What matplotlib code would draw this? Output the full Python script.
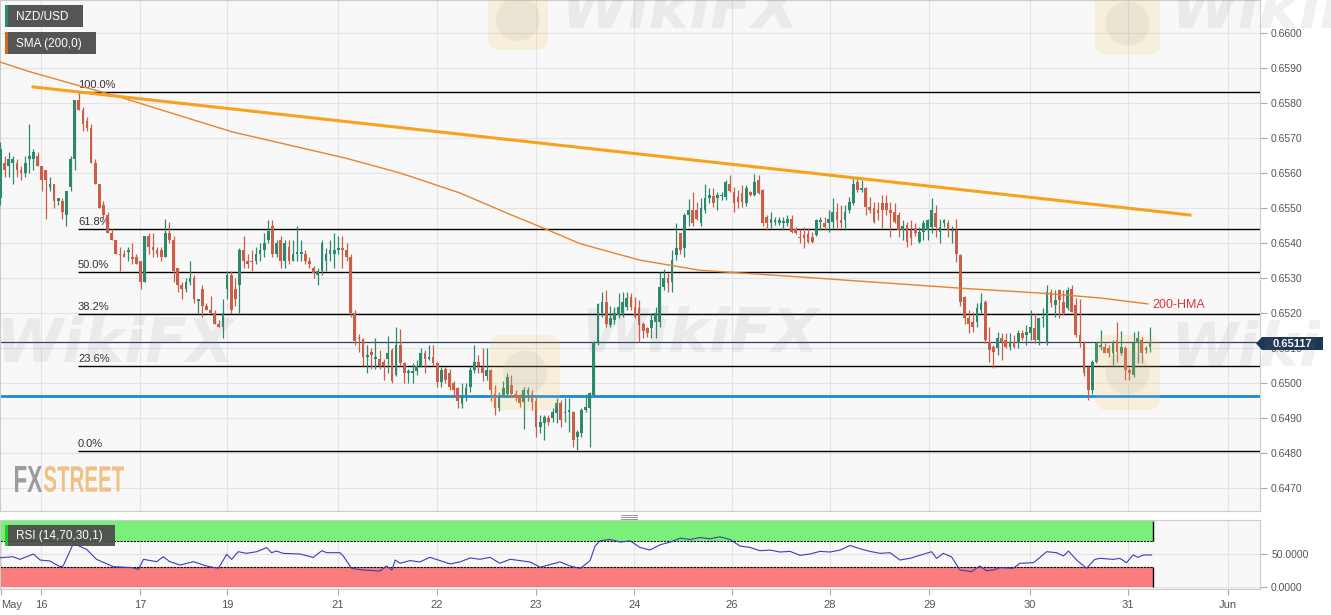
import numpy as np
import matplotlib
matplotlib.use("Agg")
import matplotlib.pyplot as plt
from matplotlib.patches import Rectangle, Polygon, PathPatch, FancyBboxPatch, Circle
from matplotlib.textpath import TextPath
from matplotlib.font_manager import FontProperties
from matplotlib.transforms import Affine2D

plt.rcParams['font.family'] = ['Liberation Sans', 'DejaVu Sans']

# NZD/USD hourly candles, prices in pips (6553 -> 0.6553)
opens = [
    6553, 6563, 6562, 6563, 6563, 6561, 6560, 6564, 6564, 6565,
    6562, 6561, 6556, 6557, 6552, 6552, 6548, 6556, 6564, 6581,
    6578, 6575, 6573, 6563, 6557, 6551, 6548, 6543, 6541, 6537,
    6537, 6537.5, 6536, 6536, 6535, 6529, 6542, 6539, 6538, 6538,
    6536, 6543, 6541, 6533, 6528, 6527, 6529, 6530, 6523.5, 6527,
    6522, 6521, 6520, 6517, 6516, 6527, 6531, 6527, 6528, 6538,
    6535, 6535, 6535, 6537, 6538, 6541, 6545, 6537, 6541, 6535,
    6539, 6535, 6537, 6537, 6537, 6535, 6533, 6531, 6532, 6535,
    6537, 6537, 6538, 6538.5, 6538, 6536, 6520, 6513, 6512.5, 6507.5,
    6509, 6507, 6507, 6506, 6507, 6509.5, 6502.3, 6511, 6505.6, 6503,
    6503, 6503.5, 6505, 6508.5, 6507, 6507.5, 6505.6, 6500.4, 6504, 6503,
    6500, 6498.5, 6494, 6496.5, 6499, 6503.7, 6506, 6504.7, 6502, 6503.7,
    6497, 6493, 6496.6, 6497, 6499.4, 6497, 6496.6, 6494.7, 6497, 6497,
    6495, 6487.5, 6488.5, 6490, 6489.9, 6491.3, 6494.2, 6491.4, 6491.8, 6491.8,
    6484.6, 6485.6, 6492.3, 6492.8, 6496.6, 6511.8, 6519.9, 6523.2, 6516.6, 6518,
    6519.4, 6519.9, 6521.8, 6524.7, 6521.8, 6521.3, 6517, 6515.6, 6515.6, 6517.5,
    6517.5, 6527.5, 6529.9, 6529, 6536.6, 6542.8, 6538.5, 6548, 6549.4, 6549.4,
    6545.6, 6549.4, 6552.8, 6553.4, 6552.8, 6553.4, 6553.2, 6556.8, 6554.6, 6553.2,
    6554.2, 6551.3, 6554.7, 6553.7, 6558, 6555.1, 6547.5, 6545.6, 6546.1, 6545.6,
    6545.8, 6545.6, 6547, 6544, 6541.8, 6542.3, 6542.5, 6541.8, 6542.3, 6546,
    6545.8, 6545.6, 6546.1, 6549, 6546.6, 6546.6, 6549.4, 6551.3, 6557.5, 6555.1,
    6555.6, 6550.4, 6550, 6549.4, 6551.3, 6551.3, 6549.4, 6549, 6548, 6543.7,
    6545.1, 6543.7, 6544.2, 6540.4, 6543.2, 6543.7, 6544.7, 6548.7, 6543.2, 6545.6,
    6545.6, 6543.3, 6543.7, 6536.6, 6524.7, 6518.5, 6517.5, 6517.5, 6520.9, 6523.2,
    6511.8, 6510.4, 6509.9, 6512.8, 6512.3, 6510.4, 6511.8, 6511.3, 6514.2, 6513.7,
    6514.2, 6515.6, 6512.3, 6518.5, 6511.3, 6526.1, 6522.3, 6526.6, 6523.2, 6521.3,
    6527, 6522.3, 6513.7, 6511.3, 6504.7, 6498, 6506, 6510.4, 6510.4, 6510,
    6508.5, 6512.3, 6508.5, 6509.9, 6503.7, 6502.3, 6511.3, 6512.3, 6509.4, 6510.4,
]
highs = [
    6569, 6565, 6566, 6565, 6564, 6562, 6565, 6574, 6567, 6566,
    6562, 6561, 6559, 6557, 6553, 6553, 6555, 6565, 6581, 6583,
    6579, 6576, 6574, 6564, 6557, 6552, 6549, 6544, 6541, 6539,
    6538, 6539, 6540, 6537, 6535, 6542, 6543, 6543, 6539, 6539,
    6547, 6546, 6542, 6533, 6529, 6530, 6535, 6531, 6524, 6528,
    6523, 6525, 6521, 6518, 6524, 6532, 6532, 6530, 6538.5, 6542,
    6537, 6538, 6539, 6540, 6543, 6546.5, 6546.5, 6541, 6542, 6541,
    6541, 6541, 6545, 6541, 6538, 6536, 6533.5, 6533, 6541, 6538.5,
    6541, 6543, 6542, 6542, 6540, 6537, 6521, 6514, 6513, 6511,
    6510, 6513, 6509.5, 6507, 6513.5, 6510, 6516, 6515.5, 6506, 6504,
    6505.6, 6506.5, 6510, 6509.5, 6510.8, 6510.8, 6506, 6504.5, 6504.5, 6504,
    6500.5, 6499, 6500, 6500, 6505, 6510.8, 6508, 6510, 6510, 6504,
    6499.5, 6497.5, 6500.5, 6502.8, 6502.3, 6498, 6497, 6499, 6499, 6498,
    6496, 6490.8, 6491, 6491, 6493, 6495.6, 6495.1, 6495.6, 6495.6, 6492,
    6486.5, 6493, 6497, 6497.5, 6512, 6523, 6526, 6526.6, 6522, 6521.8,
    6525.6, 6526, 6526, 6525.6, 6524.7, 6523.7, 6517.5, 6516, 6520, 6521.8,
    6531.8, 6532.7, 6531.3, 6538, 6545.6, 6543, 6548.5, 6552.7, 6554.7, 6551.8,
    6553, 6557, 6555.6, 6555.6, 6554.7, 6554.7, 6558, 6559.4, 6556, 6555.1,
    6556.6, 6556.6, 6555, 6559.7, 6559.4, 6555.5, 6548, 6549, 6547.5, 6547.5,
    6547.5, 6548, 6548, 6544.5, 6544, 6544.7, 6544.2, 6543.2, 6547, 6547.5,
    6547.5, 6549.4, 6552.8, 6551.3, 6550.8, 6550.8, 6553.2, 6558.5, 6558.5, 6558,
    6556, 6553.2, 6551.8, 6551.8, 6553.7, 6553.7, 6551.8, 6551.3, 6549, 6546.5,
    6546, 6546.6, 6545.6, 6544.7, 6546.6, 6547, 6552.8, 6550.8, 6547, 6547,
    6546.5, 6545, 6547, 6537, 6525, 6520.9, 6520.4, 6522.8, 6525.6, 6523.7,
    6516.1, 6511, 6514.7, 6514.2, 6514.2, 6514.2, 6513.7, 6515.1, 6515.1, 6516.6,
    6520.9, 6519.9, 6518.5, 6521.3, 6528, 6527, 6526.6, 6527, 6526.6, 6527.5,
    6528, 6524.2, 6524, 6512, 6505, 6506.5, 6511.8, 6515.1, 6511.3, 6510.9,
    6512.3, 6517.5, 6515, 6510.5, 6504.2, 6514.7, 6515, 6513.2, 6510.5, 6516.1,
]
lows = [
    6551, 6559, 6559, 6557, 6559, 6558, 6559, 6560, 6561, 6562,
    6555, 6547, 6555, 6550, 6551, 6547, 6545, 6555, 6561, 6578,
    6572, 6572, 6563, 6557, 6550, 6547, 6543, 6541, 6537, 6532,
    6536, 6535, 6534, 6534, 6527, 6529, 6537, 6536, 6536, 6535,
    6536, 6540, 6529, 6526, 6524, 6526, 6528, 6523, 6520, 6519,
    6521, 6520, 6517, 6516, 6513, 6524, 6520, 6522, 6520, 6533,
    6533, 6532, 6534, 6535, 6536, 6540, 6536, 6536, 6533, 6533,
    6534, 6535, 6535, 6535, 6534, 6533, 6530, 6528, 6531, 6532,
    6535, 6533, 6537, 6533, 6535, 6519, 6511, 6509, 6505, 6503,
    6504, 6504, 6504, 6501, 6503, 6500, 6502, 6505, 6500, 6500,
    6500, 6502.3, 6504.7, 6502.8, 6506.5, 6505, 6499, 6499, 6500, 6498,
    6496, 6493, 6493, 6495, 6497.5, 6503, 6503, 6500.5, 6501, 6495,
    6490.8, 6492, 6496, 6496, 6496, 6495, 6493.2, 6487, 6495, 6492.3,
    6484.6, 6485.6, 6483.7, 6488, 6489, 6488.5, 6487.5, 6489, 6486, 6481.8,
    6480.8, 6484.6, 6491.8, 6481.8, 6496, 6511, 6519, 6516, 6516, 6517,
    6518.5, 6519, 6521, 6521, 6518.5, 6511.8, 6512.8, 6513.2, 6512.8, 6513,
    6516.1, 6526.6, 6526, 6526, 6535.1, 6537, 6536, 6545, 6545, 6546.5,
    6545, 6548.5, 6551.3, 6550.4, 6549.4, 6552.3, 6552.3, 6554.7, 6549, 6549.9,
    6550.4, 6550.5, 6553.5, 6553.5, 6554, 6545, 6543.7, 6544.2, 6545.1, 6545.1,
    6543.7, 6545, 6542.8, 6542.5, 6539.9, 6538.7, 6539.9, 6540, 6542, 6543.7,
    6543.7, 6543.2, 6544.2, 6543.7, 6544.2, 6543.7, 6548.5, 6551, 6554.5, 6554.5,
    6548, 6548.5, 6545.6, 6546.6, 6544.2, 6548, 6541.8, 6545.6, 6541.8, 6540.9,
    6539, 6539.4, 6542, 6539.9, 6540.9, 6540.9, 6542.8, 6541.8, 6540, 6544.7,
    6541.8, 6539.9, 6534.7, 6522, 6517, 6514.2, 6514.7, 6516.1, 6520, 6511.3,
    6506, 6504.2, 6508, 6506.6, 6509.9, 6509.4, 6509.9, 6509.9, 6512.3, 6510.9,
    6512.3, 6511.3, 6510.9, 6516.1, 6511, 6521.8, 6518.9, 6518.5, 6519.4, 6521,
    6520.4, 6513.2, 6510.4, 6502, 6495.1, 6497, 6505.6, 6509.4, 6508.5, 6507.5,
    6505.2, 6506, 6508, 6500.9, 6500.9, 6501.8, 6505.6, 6505.6, 6508.5, 6509,
]
closes = [
    6567, 6561, 6564, 6564, 6561, 6560, 6563, 6565, 6566, 6562,
    6558, 6558, 6557, 6552, 6553, 6549, 6555, 6564, 6581, 6578,
    6574, 6573, 6563, 6557, 6550, 6548, 6543, 6541, 6537, 6536.5,
    6536, 6538, 6535.5, 6534, 6529, 6542, 6539, 6538, 6537, 6536,
    6543, 6541, 6532, 6528, 6527, 6529, 6530, 6524, 6524, 6522,
    6521, 6520, 6517, 6516, 6520, 6531, 6521, 6524, 6538, 6535,
    6534, 6534.5, 6537, 6538, 6540, 6543.5, 6537, 6540, 6535, 6540,
    6535, 6537, 6537.5, 6537.5, 6535, 6534, 6531.5, 6532, 6540, 6537,
    6538, 6538, 6538.5, 6538, 6536, 6520, 6512, 6512.5, 6507.5, 6508,
    6508, 6507.5, 6505, 6505, 6508.5, 6500.5, 6511, 6505.6, 6502.8, 6503.5,
    6503, 6505, 6508.5, 6507, 6507.5, 6505.6, 6500.4, 6503.7, 6500.8, 6499,
    6498, 6495, 6496.5, 6498.5, 6503.7, 6506, 6505, 6502.8, 6503.7, 6498,
    6492.8, 6496, 6498.5, 6501.8, 6497, 6495.6, 6494.2, 6498, 6498, 6494.7,
    6487.5, 6489, 6490.4, 6489, 6491.8, 6494.2, 6489.4, 6491.8, 6491.8, 6483.7,
    6486, 6492.3, 6493.2, 6497.1, 6511.8, 6522.7, 6523.2, 6517, 6518.5, 6519.9,
    6521.8, 6523.2, 6524.2, 6521.8, 6519, 6516.6, 6515, 6514.2, 6518, 6519.9,
    6527.5, 6529.9, 6528.5, 6535.1, 6538.5, 6538, 6548, 6549.4, 6545.6, 6547,
    6549.9, 6552.8, 6553.7, 6551.3, 6553.7, 6553.4, 6557.5, 6554.9, 6551.3, 6551.8,
    6551.8, 6555.6, 6553.7, 6557.5, 6554.2, 6545.6, 6545.6, 6546.8, 6546.1, 6546.6,
    6545.8, 6547, 6543.2, 6542.8, 6541.3, 6541.3, 6540.4, 6540.4, 6546.6, 6546.6,
    6544.7, 6546.8, 6549, 6546.6, 6545.6, 6549, 6551.8, 6557, 6555.1, 6555.6,
    6550.4, 6549.4, 6546.1, 6548.5, 6549.4, 6549.4, 6548.5, 6546.1, 6543.7, 6545,
    6540.4, 6541.3, 6542.8, 6543.2, 6545.6, 6546.6, 6549.4, 6544.7, 6544.7, 6546.6,
    6543.7, 6543.7, 6537, 6523.2, 6518.5, 6517, 6516.1, 6521.3, 6522.8, 6512.3,
    6509.4, 6509, 6512.8, 6511.8, 6510.4, 6511.8, 6510.4, 6514.2, 6512.8, 6514.7,
    6516.1, 6512.3, 6518.5, 6518.9, 6526.1, 6522.8, 6523.7, 6523.7, 6519.9, 6526.6,
    6520.4, 6513.7, 6511.8, 6502.8, 6498, 6506, 6511.3, 6510.9, 6508.5, 6508.5,
    6511.3, 6509, 6510.4, 6503.7, 6502.8, 6511.3, 6512.8, 6508.5, 6510, 6511.7,
]

# x axis: candle index of each day label
day_ticks = [9.8, 33.9, 55.0, 81.9, 105.9, 130.0, 153.8, 177.5, 201.3, 225.4, 249.9, 273.7, 297.9]
day_labels = ['16', '17', '19', '21', '22', '23', '24', '26', '28', '29', '30', '31', 'Jun']

# 200 moving average
sma_x = [-0.1, 7.2, 15.9, 29.0, 48.4, 56.4, 67.8, 83.6, 97.0, 111.5, 123.0, 131.7, 140.7,
         155.2, 169.8, 194.1, 218.3, 232.9, 252.3, 266.9, 278.5]
sma_y = [0.65917, 0.65889, 0.65860, 0.65817, 0.65746, 0.65717, 0.65686, 0.65643,
         0.65600, 0.65543, 0.65485, 0.65443, 0.65398, 0.65351, 0.65322, 0.65303,
         0.65283, 0.65271, 0.65257, 0.65243, 0.65226]

trend_x = [7.9, 288.7]
trend_y = [0.65846, 0.65480]

fib_high = 0.65831
fib_low = 0.64806
fib_levels = [1.0, 0.618, 0.5, 0.382, 0.236, 0.0]
support = 0.64963
last_price = 0.65117

rsi_x = [0, 3, 4.7, 8, 9.6, 12, 14.4, 15.2, 17.7, 20.9,
         23.3, 27.4, 32.2, 33.5, 34.7, 37.9, 39.5, 41.1, 43.6, 46.8,
         50, 52.9, 54.9, 56.1, 57.7, 59.7, 62.2, 64.6, 65.8, 67,
         68.6, 72.7, 75.9, 78, 79.2, 82.4, 83.2, 85.2, 88.1, 92.1,
         93.7, 95, 95.8, 97, 99.4, 101.8, 104.2, 106.7, 109.1, 111.5,
         114, 116.4, 118.8, 121.2, 123.7, 126.1, 128.5, 131, 133.4, 135.8,
         138.2, 140.7, 143.1, 144.3, 145.5, 148, 150.4, 152.8, 155.2, 157.6,
         160.1, 162.5, 165, 167.4, 169.8, 172.2, 174.6, 177.1, 179.5, 181.9,
         184.3, 186.8, 189.2, 191.6, 194.1, 196.5, 198.9, 201.3, 203.8, 206.2,
         208.6, 211, 213.5, 215.9, 218.3, 220.7, 226, 227.2, 228.8, 230.8,
         232.9, 235.7, 237.7, 239.3, 241, 242.6, 245.8, 247.4, 250.7, 252.3,
         253.9, 256.3, 258, 259.2, 261.2, 263.6, 265.6, 266.9, 270.1, 271.7,
         273.3, 274.9, 276.1, 277.4, 279.4]
rsi_y = [44.4, 45.9, 41.9, 50, 40.9, 39.4, 30.8, 31.8, 66, 57,
         41.9, 30.8, 29.3, 26.7, 41.9, 38.4, 45.9, 38.4, 33.3, 38.4,
         31.8, 28.3, 49.5, 41.9, 53.5, 51, 53.5, 59.6, 52, 54.5,
         51, 50, 44.9, 55, 52, 52, 47, 28.3, 25.7, 24.2,
         31.8, 25.7, 40.9, 36, 40, 38, 45, 40, 35, 38,
         44, 42, 45, 36, 42, 40, 38, 30, 34, 38,
         32, 28, 40, 62, 70, 72, 68, 70, 60, 56,
         64, 68, 74, 72, 75, 73, 76, 72, 62, 60,
         55, 56, 53, 54, 48, 50, 54, 53, 56, 63,
         58, 54, 51, 52, 40.9, 43.4, 53.5, 43.4, 51, 45.9,
         25.7, 23.2, 31.8, 24.7, 25.7, 29.3, 28.3, 35.8, 36.9, 44.9,
         53.5, 52, 47, 54.5, 40.9, 28.3, 41.9, 43.4, 41.9, 43.4,
         36.9, 48.5, 44.9, 48.5, 48.5]

W, H = 1331, 615
GREEN = '#2b8a6b'
RED = '#cc5d48'
XLO, XHI = -0.12, 305.7
BAND_END = 279.7


def fbox(x0, y0, x1, y1):
    # pixel box (origin top-left) -> figure fraction rect
    return (x0 / W, 1 - y1 / H, (x1 - x0) / W, (y1 - y0) / H)


def pbox(x0, y0, x1, y1, color, **kw):
    l, b, w, h = fbox(x0, y0, x1, y1)
    fig.add_artist(Rectangle((l, b), w, h, transform=fig.transFigure,
                             fc=color, ec='none', **kw))


def ptext(x, y, s, **kw):
    fig.text(x / W, 1 - y / H, s, **kw)


fig = plt.figure(figsize=(W / 100, H / 100), dpi=100)
ax = fig.add_axes(fbox(0, 0, 1260, 511))
rax = fig.add_axes(fbox(0, 520, 1260, 589))

# ---- price panel
o = np.array(opens) / 1e4
h = np.array(highs) / 1e4
l = np.array(lows) / 1e4
c = np.array(closes) / 1e4
idx = np.arange(len(o))
col = np.where(c >= o, GREEN, RED)
ax.vlines(idx, l, h, colors=col, lw=0.9, zorder=3)
ax.bar(idx, np.maximum(np.abs(c - o), 0.00004), bottom=np.minimum(o, c),
       width=0.66, color=col, lw=0, zorder=3)

ax.plot(sma_x, sma_y, color='#e8832c', lw=1.0, zorder=4)
ax.plot(trend_x, trend_y, color='#f6a21e', lw=2.2, zorder=4)
ax.text(279.5, 0.65223, '200-HMA', color='#d8383b', fontsize=9, va='center', ha='left', zorder=5)

for lv in fib_levels:
    price = fib_low + lv * (fib_high - fib_low)
    ax.hlines(price, 18.8, XHI, color='black', lw=1, zorder=2)
    ax.text(18.8, price + 0.00005, f'{lv * 100:.1f}%', fontsize=8, color='#333333',
            ha='left', va='bottom', zorder=2)

ax.axhline(support, color='#1e88d8', lw=2, zorder=2)
ax.axhline(last_price, color='#2d3f63', lw=0.9, zorder=2)

ax.set_xlim(XLO, XHI)
ax.set_ylim(0.646343, 0.660943)
yt = np.round(np.arange(0.6470, 0.66005, 0.001), 4)
ax.set_yticks(yt)
ax.set_yticklabels([f'{v:.4f}' for v in yt])
ax.yaxis.tick_right()
ax.tick_params(axis='y', length=5, width=0.8, color='#aaaaaa', labelcolor='#555555',
               labelsize=7.5, pad=3)
ax.set_xticks(day_ticks)
ax.tick_params(axis='x', length=0, labelbottom=False)
ax.grid(color='#e4e4e4', lw=0.8)
ax.set_axisbelow(True)
ax.set_facecolor('#f8f8f8')
for s in ax.spines.values():
    s.set_color('#cccccc')

# ---- RSI panel
rax.add_patch(Rectangle((XLO, 70), BAND_END - XLO, 30, fc='#7af07a', ec='none', zorder=1))
rax.add_patch(Rectangle((XLO, 0), BAND_END - XLO, 30, fc='#fa7c7c', ec='none', zorder=1))
rax.hlines([70, 30], XLO, BAND_END, colors='black', lw=0.8, linestyles=(0, (2, 1)), zorder=2)
rax.vlines([BAND_END, BAND_END], [70, 0], [100, 30], colors='black', lw=1, zorder=2)
rax.plot(rsi_x, rsi_y, color='#3d3db5', lw=0.8, zorder=3)
rax.set_xlim(XLO, XHI)
rax.set_ylim(-3, 101.5)
rax.set_yticks([0, 50])
rax.set_yticklabels(['0.0000', '50.0000'])
rax.yaxis.tick_right()
rax.tick_params(axis='y', length=5, width=0.8, color='#aaaaaa', labelcolor='#555555',
                labelsize=7.5, pad=3)
rax.set_xticks([0.1] + day_ticks)
rax.set_xticklabels(['May'] + day_labels)
rax.get_xticklabels()[0].set_horizontalalignment('left')
rax.tick_params(axis='x', length=4, width=0.8, color='#aaaaaa', labelcolor='#555555',
                labelsize=8, pad=4)
rax.grid(color='#e4e4e4', lw=0.8)
rax.set_axisbelow(True)
rax.set_facecolor('#f8f8f8')
for s in rax.spines.values():
    s.set_color('#cccccc')

# ---- legend tags
pbox(5, 5, 83, 27, '#555555', zorder=6)
pbox(5, 5, 8, 27, GREEN, zorder=7)
ptext(16, 16.5, 'NZD/USD', color='white', fontsize=8.5, va='center', zorder=8)
pbox(5, 32, 96, 54, '#555555', zorder=6)
pbox(5, 32, 8, 54, '#d2691e', zorder=7)
ptext(16, 43.5, 'SMA (200,0)', color='white', fontsize=8.5, va='center', zorder=8)
pbox(5, 525, 115, 546, '#4a4a4a', zorder=6, alpha=0.92)
pbox(5, 525, 8, 546, '#22cc22', zorder=7)
ptext(16, 536, 'RSI (14,70,30,1)', color='white', fontsize=8.5, va='center', zorder=8)

# last price tag
tag = [(1256, 343.5), (1262, 337), (1323, 337), (1323, 350), (1262, 350)]
fig.add_artist(Polygon([(x / W, 1 - y / H) for x, y in tag], closed=True,
                       transform=fig.transFigure, fc='#1d3557', ec='none', zorder=9))
ptext(1292, 343.5, f'{last_price:.5f}', color='white', fontsize=8, weight='bold',
      ha='center', va='center', zorder=10)

# panel splitter grip
for yy in (514.5, 516.5, 518.5):
    fig.add_artist(plt.Line2D([621 / W, 637 / W], [1 - yy / H] * 2, color='#999999',
                              lw=0.7, transform=fig.transFigure))

# FXSTREET logo, squeezed to the logo size
def squeezed_word(text, x0, x1, y_top, y_bot, color):
    tp = TextPath((0, 0), text, size=40, prop=FontProperties(family='Liberation Sans', weight='bold'))
    bb = tp.get_extents()
    tr = (Affine2D().translate(-bb.x0, -bb.y0)
          .scale((x1 - x0) / bb.width, (y_bot - y_top) / bb.height)
          .translate(x0, H - y_bot))
    fig.add_artist(PathPatch(tp, transform=tr, fc=color, ec='none', zorder=6))


squeezed_word('FX', 15, 42, 466, 492, '#9c9c9c')
squeezed_word('STREET', 44, 124, 466, 492, '#efc183')

# faint WikiFX watermarks
for x0, y0, x1, y1 in [(488, -12, 548, 50), (1095, -8, 1160, 55), (490, 335, 560, 410), (1095, 335, 1160, 410)]:
    fig.add_artist(FancyBboxPatch((x0, H - y1), x1 - x0, y1 - y0,
                                  boxstyle='round,pad=0,rounding_size=12',
                                  transform=Affine2D(), fc='#f2c14e', ec='none', alpha=0.16, zorder=11))
    fig.add_artist(Circle(((x0 + x1) / 2, H - (y0 + y1) / 2), 22, transform=Affine2D(),
                          fc='#9a9a9a', ec='none', alpha=0.12, zorder=11))
for s, x, y in [('WikiFX', 560, 12), ('WikiFX', 1170, 12), ('WikiFX', -5, 345),
                ('WikiFX', 580, 335), ('Wiki', 1170, 350)]:
    ptext(x, y, s, fontsize=44, weight='bold', style='italic', color='#7a7a7a',
          alpha=0.11, ha='left', va='center', family='DejaVu Sans', zorder=11)

fig.savefig('out.png', dpi=100)
